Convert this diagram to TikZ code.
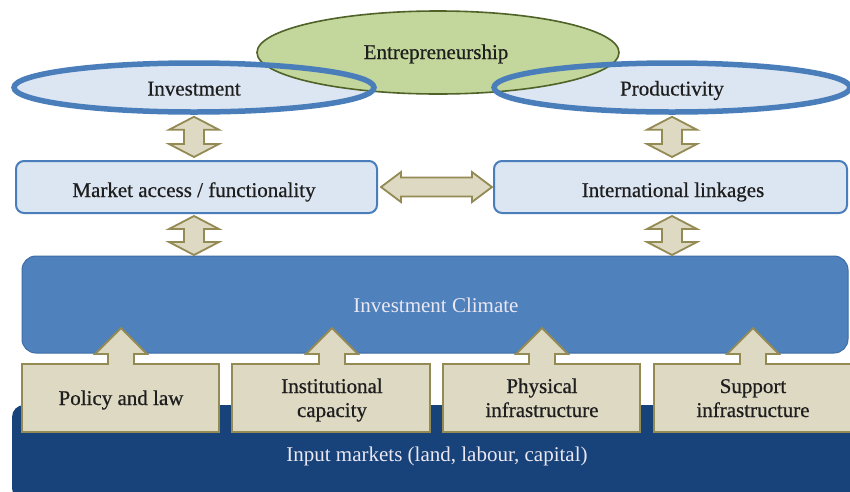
\documentclass[tikz,border=0pt]{standalone}
\usepackage{fontspec}
\setmainfont{Liberation Serif}
\newfontfamily\heavyserif[FakeBold=0.6]{Liberation Serif}
\usetikzlibrary{shapes.geometric,calc}
\definecolor{lightblue}{HTML}{DCE6F2}
\definecolor{midblue}{HTML}{4F81BD}
\definecolor{ringblue}{HTML}{4A7EBB}
\definecolor{climline}{HTML}{3F6DA5}
\definecolor{darkblue}{HTML}{17427A}
\definecolor{greenfill}{HTML}{C3D69B}
\definecolor{greenline}{HTML}{4F6228}
\definecolor{beige}{HTML}{DDD9C3}
\definecolor{olive}{HTML}{948A54}
\definecolor{txt}{HTML}{1E1E1E}
\definecolor{lighttxt}{HTML}{ECE8F2}
\newcommand{\vdblarrow}[2]{%
  \draw[blockarrow] let \p1=(#1), \p2=(#2) in
  (\x1,\y1) -- (\x1+25pt,\y1-13pt) -- (\x1+10pt,\y1-13pt) -- (\x1+10pt,\y2+13pt)
  -- (\x1+25pt,\y2+13pt) -- (\x1,\y2) -- (\x1-25pt,\y2+13pt) -- (\x1-10pt,\y2+13pt)
  -- (\x1-10pt,\y1-13pt) -- (\x1-25pt,\y1-13pt) -- cycle;}
\newcommand{\hdblarrow}[2]{%
  \draw[blockarrow] let \p1=(#1), \p2=(#2) in
  (\x1,\y1) -- (\x1+20pt,\y1+15pt) -- (\x1+20pt,\y1+9.5pt) -- (\x2-20pt,\y1+9.5pt)
  -- (\x2-20pt,\y1+15pt) -- (\x2,\y1) -- (\x2-20pt,\y1-15pt) -- (\x2-20pt,\y1-9.5pt)
  -- (\x1+20pt,\y1-9.5pt) -- (\x1+20pt,\y1-15pt) -- cycle;}
\newcommand{\inputbox}[3]{%
  \draw[beigebox] (#1,432) -- (#1,364) -- (#3-13,364) -- (#3-13,354) -- (#3-26,354)
  -- (#3,328) -- (#3+26,354) -- (#3+13,354) -- (#3+13,364) -- (#2,364) -- (#2,432) -- cycle;}
\begin{document}
\begin{tikzpicture}[x=1pt,y=-1pt,
  every node/.style={inner sep=0pt},
  darklbl/.style={font=\heavyserif\fontsize{21}{24}\selectfont, text=txt, align=center, anchor=base},
  lightlbl/.style={font=\fontsize{21}{24}\selectfont, text=lighttxt, anchor=base},
  ringfill/.style={ellipse, fill=lightblue},
  ring/.style={ellipse, draw=ringblue, line width=5.5pt},
  greenring/.style={ellipse, fill=greenfill, draw=greenline, line width=1.6pt},
  bluebox/.style={rectangle, rounded corners=8pt, fill=lightblue, draw=ringblue, line width=2pt},
  blockarrow/.style={fill=beige, draw=olive, line width=1.8pt, line join=miter},
  beigebox/.style={fill=beige, draw=olive, line width=1.8pt}]
\useasboundingbox (0,0) rectangle (850,491);
\fill[white] (0,0) rectangle (850,491);

% input markets band
\fill[darkblue, rounded corners=12pt] (12,500) -- (12,405) -- (860,405) -- (860,500) -- cycle;
\node[lightlbl] (inputs) at (437,461) {Input markets (land, labour, capital)};

% investment climate
\node[rectangle, rounded corners=14pt, fill=midblue, draw=climline, line width=1pt,
      minimum width=826pt, minimum height=97pt] (clim) at (435,304.5) {};
\node[lightlbl] (climtext) at (436,312) {Investment Climate};

% input boxes with arrows
\inputbox{22}{219}{121}
\inputbox{232}{430}{332}
\inputbox{443}{640}{542}
\inputbox{654}{852}{753}
\node[darklbl] (policy) at (121,405) {Policy and law};
\node[darklbl] (inst) at (332,417) {Institutional\\capacity};
\node[darklbl] (phys) at (542,417) {Physical\\infrastructure};
\node[darklbl] (supp) at (753,417) {Support\\infrastructure};

% ellipses
\node[ringfill, minimum width=360pt, minimum height=49pt] (inv) at (194,87.5) {};
\node[ringfill, minimum width=356pt, minimum height=49pt] (prod) at (672,87.5) {};
\node[greenring, minimum width=362pt, minimum height=83pt] (ent) at (438,52.5) {};
\node[ring, minimum width=360pt, minimum height=49pt] (invring) at (194,87.5) {};
\node[ring, minimum width=356pt, minimum height=49pt] (prodring) at (672,87.5) {};
\node[darklbl] (enttext) at (436,59) {Entrepreneurship};
\node[darklbl] (invtext) at (194,95.5) {Investment};
\node[darklbl] (prodtext) at (672,95.5) {Productivity};

% middle boxes
\node[bluebox, minimum width=361pt, minimum height=52pt] (mkt) at (196.5,187) {};
\node[bluebox, minimum width=353pt, minimum height=52pt] (intl) at (670.5,187) {};
\node[darklbl] (mkttext) at (194,197) {Market access / functionality};
\node[darklbl] (intltext) at (673,197) {International linkages};

% connecting block arrows
\vdblarrow{$(invring.south)+(0,2)$}{$(invring.south |- mkt.north)+(0,-3)$}
\vdblarrow{$(prodring.south)+(0,2)$}{$(prodring.south |- intl.north)+(0,-3)$}
\vdblarrow{$(invring.south |- mkt.south)+(0,2)$}{$(invring.south |- clim.north)+(0,-0.5)$}
\vdblarrow{$(prodring.south |- intl.south)+(0,2)$}{$(prodring.south |- clim.north)+(0,-0.5)$}
\hdblarrow{$(mkt.east)+(3,0)$}{$(intl.west)+(-1,0)$}
\end{tikzpicture}
\end{document}
